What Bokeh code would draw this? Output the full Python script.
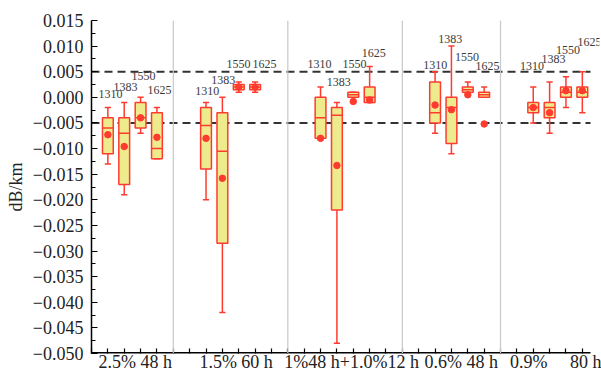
from bokeh.plotting import figure
from bokeh.models import FixedTicker, Span, ColumnDataSource
from bokeh.embed import file_html
from bokeh.resources import INLINE

# Test conditions (x-axis groups) and wavelengths within each group
groups = ["2.5% 48 h", "1.5% 60 h", "1%48 h+1.0%12 h", "0.6% 48 h",
          "0.9%\u00a0\u00a0\u00a0\u00a0\u00a080 h"]
wavelengths = ["1310", "1383", "1550", "1625"]

# Box statistics in dB/km, 4 wavelengths per group, groups in order
whisker_lo = [-0.013, -0.019, -0.007, -0.012,
              -0.020, -0.042, 0.001, 0.001,
              -0.008, -0.048, 0.000, -0.001,
              -0.007, -0.011, 0.001, 0.000,
              -0.005, -0.007, -0.002, -0.003]
q1 = [-0.011, -0.017, -0.006, -0.012,
      -0.014, -0.0285, 0.0015, 0.0015,
      -0.008, -0.022, 0.000, -0.001,
      -0.005, -0.009, 0.001, 0.000,
      -0.003, -0.004, 0.000, 0.000]
median = [-0.006, -0.007, -0.004, -0.010,
          -0.0055, -0.0105, 0.002, 0.002,
          -0.004, -0.0035, 0.0005, 0.000,
          -0.003, -0.002, 0.0015, 0.0005,
          -0.002, -0.002, 0.001, 0.001]
q3 = [-0.004, -0.004, -0.001, -0.003,
      -0.002, -0.003, 0.0025, 0.0025,
      0.000, -0.002, 0.001, 0.002,
      0.003, 0.000, 0.002, 0.001,
      -0.001, -0.001, 0.002, 0.002]
whisker_hi = [-0.002, -0.001, 0.000, -0.002,
              -0.001, 0.000, 0.003, 0.003,
              0.002, -0.001, 0.001, 0.006,
              0.005, 0.010, 0.003, 0.002,
              0.002, 0.003, 0.004, 0.005]
mean = [-0.0073, -0.0096, -0.0040, -0.0078,
        -0.0080, -0.0158, 0.0020, 0.0020,
        -0.0080, -0.0133, -0.0008, -0.0005,
        -0.0015, -0.0024, 0.0005, -0.0052,
        -0.0020, -0.0030, 0.0013, 0.0013]

y_ticks = [-0.050, -0.045, -0.040, -0.035, -0.030, -0.025, -0.020, -0.015,
           -0.010, -0.005, 0.000, 0.005, 0.010, 0.015]
ref_levels = [0.005, -0.005]

# Layout on the numeric x axis: first slot of each group, group separators
group_start = [1, 7, 14, 21, 27]
separators = [5, 12, 19, 25]
group_label_x = [2.67, 8.84, 15.9, 22.6, 28.5]
axis_end = 30.5      # where the drawn axis line and reference lines stop
view_end = 31.05     # a little room on the right for the last tag

# Placement of the wavelength tags above each box (x, y in axis units)
tag_x = [1.16, 2.08, 3.18, 4.15,
         7.07, 8.06, 8.98, 10.57,
         13.93, 15.11, 16.08, 17.25,
         21.01, 21.93, 22.95, 24.21,
         26.92, 28.24, 29.12, 30.44]
tag_y = [0.0007, 0.0021, 0.0041, 0.0015,
         0.0013, 0.0034, 0.0065, 0.0065,
         0.0065, 0.0030, 0.0065, 0.0086,
         0.0064, 0.0113, 0.0078, 0.0061,
         0.0061, 0.0074, 0.0093, 0.0108]

RED = "#FF3B30"
FILL = "#EDEB8C"
INK = "#222222"
SERIF = "Liberation Serif"

xs = [g + k for g in group_start for k in range(len(wavelengths))]
box_w = 0.66
cap_w = 0.38

src = ColumnDataSource(dict(
    x=xs, lo=whisker_lo, q1=q1, med=median, q3=q3, hi=whisker_hi, mean=mean,
    bl=[x - box_w / 2 for x in xs], br=[x + box_w / 2 for x in xs],
    cl=[x - cap_w / 2 for x in xs], cr=[x + cap_w / 2 for x in xs],
    tag=wavelengths * len(groups), tx=tag_x, ty=tag_y,
))

p = figure(width=601, height=374, x_range=(0, view_end), y_range=(-0.050, 0.015),
           output_backend="svg", toolbar_location=None,
           min_border_left=91, min_border_right=2, min_border_top=20,
           min_border_bottom=0)
p.outline_line_color = None
p.grid.visible = False
p.background_fill_color = "white"

# group separators
for s in separators:
    p.add_layout(Span(location=s, dimension="height", line_color="#C8C8C8",
                      line_width=1.2))

# reference band at +/-0.005 dB/km
p.segment(x0=[0] * len(ref_levels), y0=ref_levels,
          x1=[axis_end] * len(ref_levels), y1=ref_levels,
          line_color="#333333", line_width=2, line_dash="8 5")

# bottom axis line, stopping before the right-hand margin
p.segment(x0=[0], y0=[-0.050], x1=[axis_end], y1=[-0.050],
          line_color="black", line_width=3)

# whiskers and caps
p.segment(x0="x", y0="q3", x1="x", y1="hi", source=src, line_color=RED, line_width=1.5)
p.segment(x0="x", y0="lo", x1="x", y1="q1", source=src, line_color=RED, line_width=1.5)
p.segment(x0="cl", y0="hi", x1="cr", y1="hi", source=src, line_color=RED, line_width=1.5)
p.segment(x0="cl", y0="lo", x1="cr", y1="lo", source=src, line_color=RED, line_width=1.5)

# boxes, medians, means
p.vbar(x="x", width=box_w, top="q3", bottom="q1", source=src,
       fill_color=FILL, line_color=RED, line_width=1.5)
p.segment(x0="bl", y0="med", x1="br", y1="med", source=src, line_color=RED, line_width=1.5)
p.scatter(x="x", y="mean", source=src, size=6.5, marker="circle",
          fill_color=RED, line_color=RED)

# wavelength tags
p.text(x="tx", y="ty", text="tag", source=src, text_align="center",
       text_baseline="middle", text_font_size="12px", text_color="#3a3a3a",
       text_font={"value": SERIF})

# y axis
yax = p.yaxis[0]
yax.ticker = FixedTicker(ticks=y_ticks,
                         minor_ticks=[t + 0.0025 for t in y_ticks[:-1]])
yax.major_label_overrides = {t: (f"{t:.3f}".replace("-", "\u2212")) for t in y_ticks}
yax.major_label_text_font = SERIF
yax.major_label_text_font_size = "18px"
yax.major_label_text_color = INK
yax.major_tick_in = 6
yax.major_tick_out = 0
yax.minor_tick_in = 4
yax.minor_tick_out = 0
yax.major_label_standoff = 8
yax.axis_line_width = 1.5
yax.major_tick_line_width = 1.2
yax.minor_tick_line_width = 1.2
yax.axis_label = "dB/km"
yax.axis_label_text_font = SERIF
yax.axis_label_text_font_style = "normal"
yax.axis_label_text_font_size = "18px"
yax.axis_label_text_color = INK
yax.axis_label_standoff = 4

# x axis: small inward ticks at every slot, group names at group centres
xax = p.xaxis[0]
xax.ticker = FixedTicker(ticks=group_label_x, minor_ticks=list(range(0, 31)))
xax.major_label_overrides = {x: name for x, name in zip(group_label_x, groups)}
xax.major_label_text_font = SERIF
xax.major_label_text_font_size = "18px"
xax.major_label_text_color = INK
xax.major_label_standoff = -2
xax.minor_tick_in = 5
xax.minor_tick_out = 0
xax.major_tick_in = 0
xax.major_tick_out = 0
xax.axis_line_color = None
xax.minor_tick_line_width = 1.2

open("out.html", "w").write(file_html(p, INLINE))
